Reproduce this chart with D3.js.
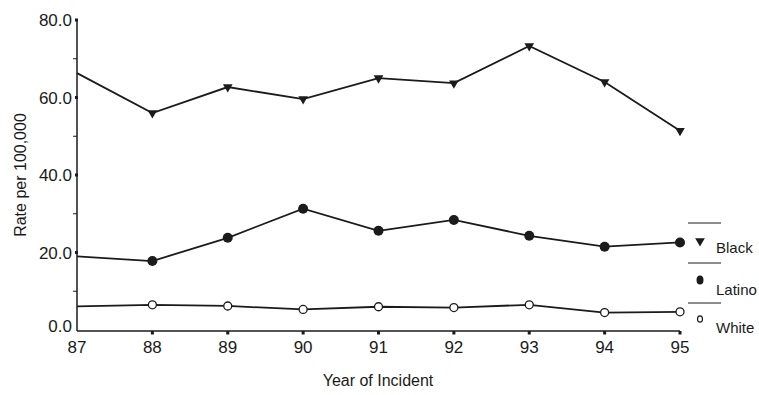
<!DOCTYPE html>
<html lang="en">
  <head>
    <meta charset="UTF-8" />
    <title>Rate per 100,000 by Year of Incident</title>
    <script src="https://d3js.org/d3.v7.min.js"></script>
    <style>
      body { margin: 0; background: #fff; }
      svg { display: block; font-family: "Liberation Sans", Arial, sans-serif; }
    </style>
  </head>
  <body>
    <svg width="759" height="395"></svg>
    <script>
      // data
      let years = ["87", "88", "89", "90", "91", "92", "93", "94", "95"];
      let black = [66.3, 56.0, 62.7, 59.6, 65.0, 63.7, 73.3, 64.0, 51.4];
      let latino = [19.0, 17.8, 23.8, 31.3, 25.6, 28.4, 24.3, 21.5, 22.6];
      let white = [6.1, 6.5, 6.2, 5.3, 6.0, 5.8, 6.5, 4.5, 4.7];
      let yTicks = [0, 20, 40, 60, 80];
      let yMinor = [10, 30, 50, 70];

      let ink = "#1b1b1b";
      let svg = d3.select("svg");

      let x = d3.scalePoint().domain(years).range([77, 680]);
      let y = d3.scaleLinear().domain([0, 80]).range([330, 20]);

      // axes
      svg.append("line")
        .attr("x1", 77).attr("x2", 77)
        .attr("y1", y(80) - 1).attr("y2", 331)
        .attr("stroke", ink).attr("stroke-width", 1.5);
      svg.append("line")
        .attr("x1", 77).attr("x2", 680)
        .attr("y1", 331).attr("y2", 331)
        .attr("stroke", ink).attr("stroke-width", 1.5);

      // y ticks
      svg.append("g")
        .selectAll("rect")
        .data(yTicks.slice(1))
        .enter()
        .append("rect")
        .attr("x", 75).attr("y", (d) => y(d) - 1.5)
        .attr("width", 3).attr("height", 3)
        .attr("fill", ink);
      svg.append("g")
        .selectAll("line")
        .data(yMinor)
        .enter()
        .append("line")
        .attr("x1", 73).attr("x2", 77)
        .attr("y1", (d) => y(d)).attr("y2", (d) => y(d))
        .attr("stroke", ink).attr("stroke-width", 1);
      svg.append("g")
        .selectAll("text")
        .data(yTicks)
        .enter()
        .append("text")
        .attr("x", 72).attr("y", (d) => (d === 0 ? 332 : y(d) + 6))
        .attr("text-anchor", "end")
        .attr("font-size", 17)
        .attr("fill", ink)
        .text((d) => d3.format(".1f")(d));

      // x ticks
      svg.append("g")
        .selectAll("rect")
        .data(years.slice(1))
        .enter()
        .append("rect")
        .attr("x", (d) => x(d) - 1.5).attr("y", 331)
        .attr("width", 3).attr("height", 3.5)
        .attr("fill", ink);
      svg.append("g")
        .selectAll("text")
        .data(years)
        .enter()
        .append("text")
        .attr("x", (d) => x(d)).attr("y", 353)
        .attr("text-anchor", "middle")
        .attr("font-size", 17)
        .attr("fill", ink)
        .text((d) => d);

      // titles
      svg.append("text")
        .attr("x", 378).attr("y", 386)
        .attr("text-anchor", "middle")
        .attr("font-size", 16)
        .attr("fill", ink)
        .text("Year of Incident");
      svg.append("text")
        .attr("transform", "translate(26,175) rotate(-90)")
        .attr("text-anchor", "middle")
        .attr("font-size", 16)
        .attr("fill", ink)
        .text("Rate per 100,000");

      // lines
      let line = d3.line()
        .x((d, i) => x(years[i]))
        .y((d) => y(d));
      [black, latino, white].forEach((s) => {
        svg.append("path")
          .datum(s)
          .attr("d", line)
          .attr("fill", "none")
          .attr("stroke", ink)
          .attr("stroke-width", 1.8);
      });

      let tri = d3.symbol().type(d3.symbolTriangle).size(40);

      // markers (first year has none)
      svg.append("g")
        .selectAll("path")
        .data(black.slice(1))
        .enter()
        .append("path")
        .attr("d", tri)
        .attr("transform", (d, i) => `translate(${x(years[i + 1])},${y(d)}) rotate(180)`)
        .attr("fill", ink);
      svg.append("g")
        .selectAll("circle")
        .data(latino.slice(1))
        .enter()
        .append("circle")
        .attr("cx", (d, i) => x(years[i + 1]))
        .attr("cy", (d) => y(d))
        .attr("r", 5)
        .attr("fill", ink);
      svg.append("g")
        .selectAll("circle")
        .data(white.slice(1))
        .enter()
        .append("circle")
        .attr("cx", (d, i) => x(years[i + 1]))
        .attr("cy", (d) => y(d))
        .attr("r", 4)
        .attr("fill", "#fff")
        .attr("stroke", ink)
        .attr("stroke-width", 1.3);

      // legend
      let legend = [
        { name: "Black", ly: 223, my: 241, ty: 253 },
        { name: "Latino", ly: 263, my: 280, ty: 295 },
        { name: "White", ly: 303, my: 319, ty: 333 }
      ];
      let lg = svg.append("g");
      legend.forEach((d) => {
        lg.append("line")
          .attr("x1", 688).attr("x2", 721)
          .attr("y1", d.ly).attr("y2", d.ly)
          .attr("stroke", ink).attr("stroke-width", 1);
        lg.append("text")
          .attr("x", 716).attr("y", d.ty)
          .attr("font-size", 15)
          .attr("fill", ink)
          .text(d.name);
      });
      lg.append("path")
        .attr("d", tri)
        .attr("transform", `translate(700,${legend[0].my}) rotate(180)`)
        .attr("fill", ink);
      lg.append("ellipse")
        .attr("cx", 700).attr("cy", legend[1].my)
        .attr("rx", 3.5).attr("ry", 4.5)
        .attr("fill", ink);
      lg.append("ellipse")
        .attr("cx", 700).attr("cy", legend[2].my)
        .attr("rx", 2.5).attr("ry", 3.2)
        .attr("fill", "#fff")
        .attr("stroke", ink).attr("stroke-width", 1.2);
    </script>
  </body>
</html>
